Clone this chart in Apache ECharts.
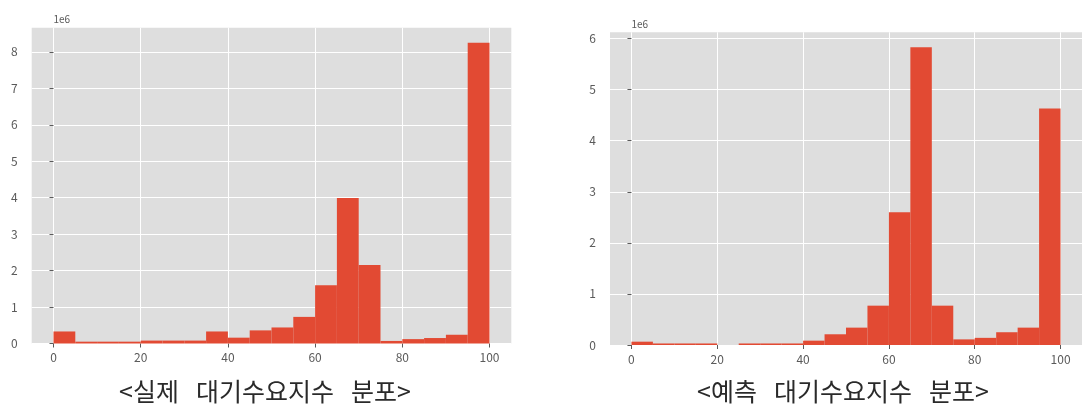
<!DOCTYPE html>
<html>
<head>
<meta charset="utf-8">
<script src="https://cdn.jsdelivr.net/npm/echarts@6/dist/echarts.min.js"></script>
<style>
  html, body { margin: 0; padding: 0; background: #ffffff; }
  #chart { width: 1082px; height: 406px; }
</style>
</head>
<body>
<div id="chart"></div>
<script>
// Histogram bins: 20 bins of width 5 covering the index range 0–100
const binEdges = [0, 5, 10, 15, 20, 25, 30, 35, 40, 45, 50, 55, 60, 65, 70, 75, 80, 85, 90, 95, 100];

// Counts per bin, actual waiting-demand index
const actualCounts = [
  330000, 50000, 50000, 50000, 80000, 80000, 80000, 330000, 160000, 360000,
  440000, 730000, 1600000, 3990000, 2150000, 70000, 120000, 150000, 240000, 8250000
];

// Counts per bin, predicted waiting-demand index
const predictedCounts = [
  65000, 30000, 30000, 30000, 0, 30000, 30000, 30000, 85000, 210000,
  340000, 770000, 2600000, 5830000, 770000, 110000, 140000, 250000, 340000, 4630000
];

const xTickValues = [0, 20, 40, 60, 80, 100];
const actualYTicks = [0, 1, 2, 3, 4, 5, 6, 7, 8];
const predictedYTicks = [0, 1, 2, 3, 4, 5, 6];
const yScaleLabel = '1e6';
const panelTitles = ['<실제 대기수요지수 분포>', '<예측 대기수요지수 분포>'];

const BAR_COLOR = '#E24A33';
const PANEL_BG = '#DEDEDE';
const TICK_COLOR = '#5a5a5a';
const LABEL_FONT = '"Noto Sans CJK KR", "Noto Sans", sans-serif';

// Panel placement (pixels)
const panels = [
  { left: 31.7, top: 27.7, width: 479.6, height: 315.8, titleX: 265, titleY: 391 },
  { left: 610, top: 32.3, width: 476, height: 312.7, titleX: 843, titleY: 391 }
];

// matplotlib-style 5% padding around the data range
const xPad = (binEdges[binEdges.length - 1] - binEdges[0]) * 0.05;
const xMin = binEdges[0] - xPad;
const xMax = binEdges[binEdges.length - 1] + xPad;

function binData(counts) {
  return counts.map((c, i) => [binEdges[i], binEdges[i + 1], c]);
}

function renderBin(params, api) {
  const v = api.value(2);
  if (!(v > 0)) return null;
  const p0 = api.coord([api.value(0), v]);
  const p1 = api.coord([api.value(1), 0]);
  return {
    type: 'rect',
    shape: { x: p0[0], y: p0[1], width: p1[0] - p0[0], height: p1[1] - p0[1] },
    style: { fill: BAR_COLOR }
  };
}

function makeXAxis(gridIndex) {
  return {
    type: 'value',
    gridIndex,
    min: xMin,
    max: xMax,
    axisLine: { show: false },
    axisTick: {
      show: true, length: 4, customValues: xTickValues,
      lineStyle: { color: TICK_COLOR, width: 1 }
    },
    axisLabel: {
      customValues: xTickValues, margin: 8, color: TICK_COLOR,
      fontSize: 12, fontFamily: LABEL_FONT
    },
    splitLine: { show: true, lineStyle: { color: '#ffffff', width: 1 } }
  };
}

function makeYAxis(gridIndex, counts, ticks) {
  const tickVals = ticks.map(t => t * 1e6);
  return {
    type: 'value',
    gridIndex,
    min: 0,
    max: Math.max(...counts) * 1.05,
    name: yScaleLabel,
    nameLocation: 'end',
    nameGap: 3,
    nameTextStyle: {
      align: 'left', verticalAlign: 'bottom', color: TICK_COLOR,
      fontSize: 10, fontFamily: LABEL_FONT
    },
    axisLine: { show: false },
    axisTick: {
      show: true, length: 4, customValues: tickVals,
      lineStyle: { color: TICK_COLOR, width: 1 }
    },
    axisLabel: {
      customValues: tickVals, margin: 14, color: TICK_COLOR,
      fontSize: 12, fontFamily: LABEL_FONT,
      formatter: v => String(Math.round(v / 1e6))
    },
    splitLine: { show: true, lineStyle: { color: '#ffffff', width: 1 } }
  };
}

// Title text with wide word gaps, built from the plain title string
function titleText(str) {
  return str.split(' ').map(w => '{w|' + w + '}').join('{g| }');
}

function titleGraphic(str, x, y) {
  return {
    type: 'text',
    x, y,
    style: {
      text: titleText(str),
      align: 'center',
      verticalAlign: 'middle',
      rich: {
        w: { fontSize: 25, fontFamily: '"Noto Sans CJK KR", sans-serif', fill: '#2a2a2a' },
        g: { fontSize: 25, width: 17 }
      }
    }
  };
}

const chart = echarts.init(document.getElementById('chart'), null, { renderer: 'canvas' });

chart.setOption({
  backgroundColor: '#ffffff',
  animation: false,
  grid: panels.map(p => ({
    left: p.left, top: p.top, width: p.width, height: p.height,
    show: true, backgroundColor: PANEL_BG, borderWidth: 0, containLabel: false
  })),
  xAxis: [makeXAxis(0), makeXAxis(1)],
  yAxis: [
    makeYAxis(0, actualCounts, actualYTicks),
    makeYAxis(1, predictedCounts, predictedYTicks)
  ],
  series: [
    {
      type: 'custom', xAxisIndex: 0, yAxisIndex: 0,
      encode: { x: [0, 1], y: 2 },
      data: binData(actualCounts),
      renderItem: renderBin
    },
    {
      type: 'custom', xAxisIndex: 1, yAxisIndex: 1,
      encode: { x: [0, 1], y: 2 },
      data: binData(predictedCounts),
      renderItem: renderBin
    }
  ],
  graphic: panelTitles.map((t, i) => titleGraphic(t, panels[i].titleX, panels[i].titleY))
});
</script>
</body>
</html>
